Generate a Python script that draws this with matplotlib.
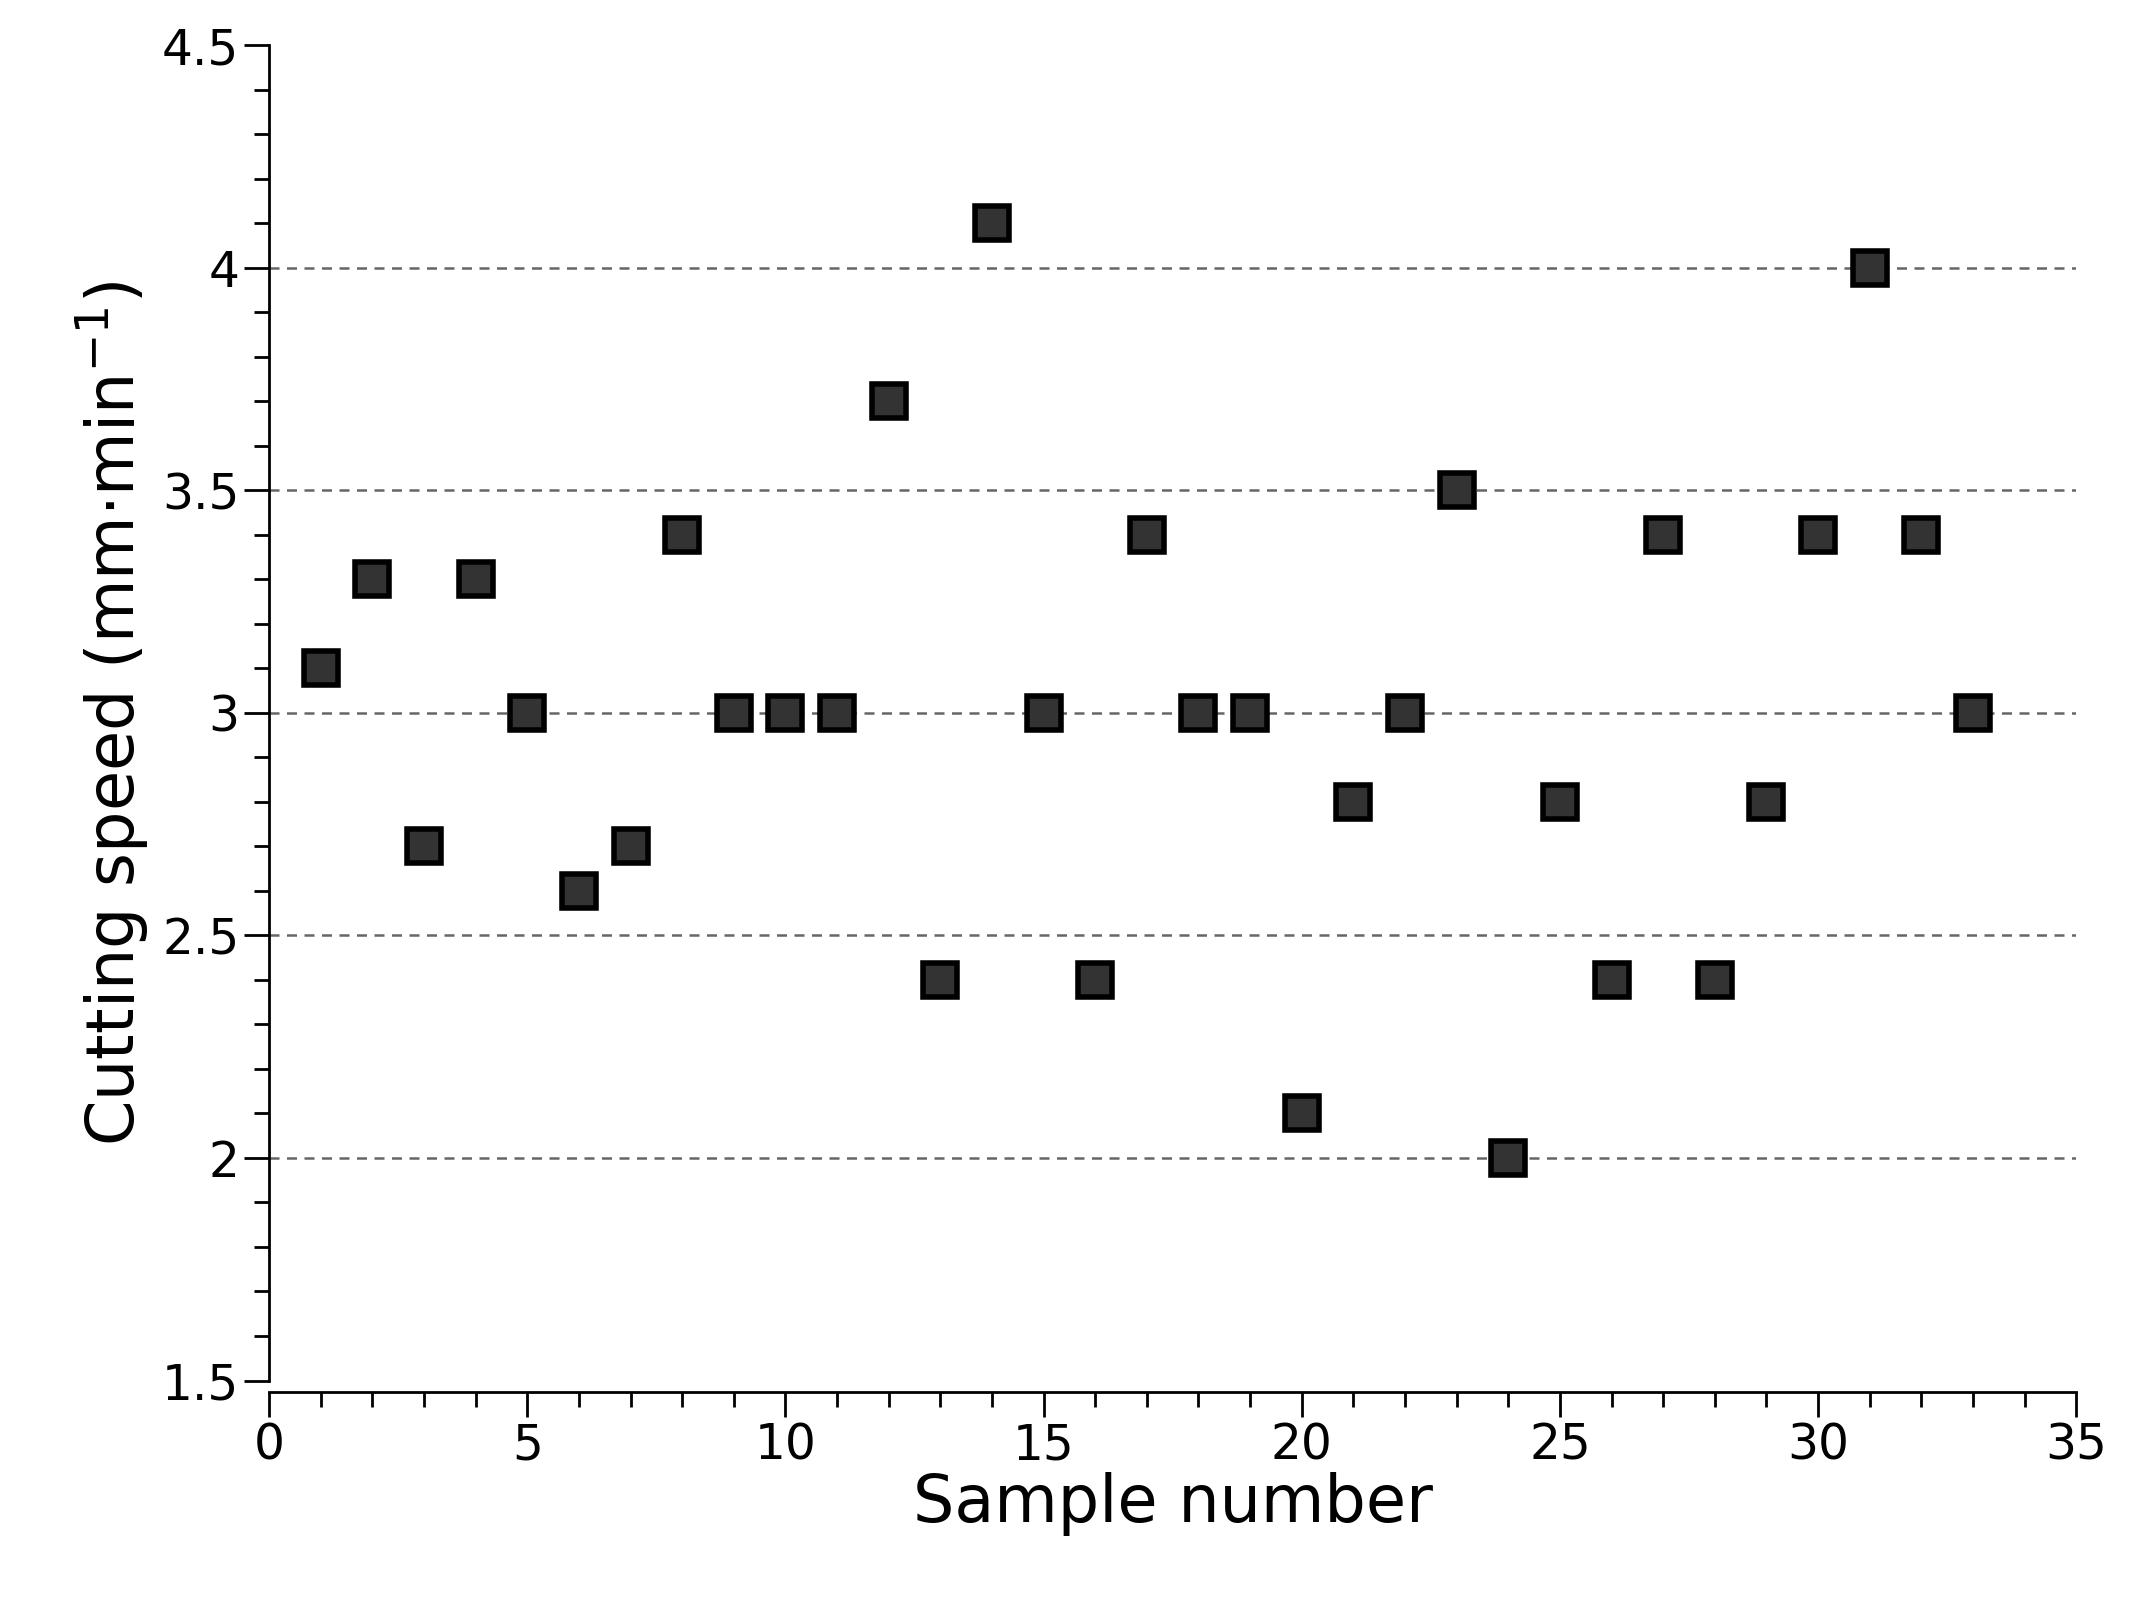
import matplotlib
matplotlib.use("Agg")
import matplotlib.pyplot as plt
from matplotlib.ticker import MultipleLocator

sample = list(range(1, 34))
speed = [3.1, 3.3, 2.7, 3.3, 3.0, 2.6, 2.7, 3.4, 3.0, 3.0, 3.0, 3.7, 2.4, 4.1, 3.0, 2.4,
         3.4, 3.0, 3.0, 2.1, 2.8, 3.0, 3.5, 2.0, 2.8, 2.4, 3.4, 2.4, 2.8, 3.4, 4.0, 3.4, 3.0]
grid_levels = [2.0, 2.5, 3.0, 3.5, 4.0]

plt.rcParams["font.family"] = "DejaVu Sans"
fig = plt.figure(figsize=(21.36, 16.09), dpi=100)
ax = fig.add_axes([0.126, 0.142, 0.846, 0.83])

for lv in grid_levels:
    ax.axhline(lv, color="0.4", linestyle=(0, (4, 3)), linewidth=1.8, zorder=0)

ax.plot(sample, speed, linestyle="none", marker="s", markersize=24,
        markerfacecolor="#333333", markeredgecolor="black", markeredgewidth=4, zorder=3)

ax.set_xlim(0, 35)
ax.set_ylim(1.5, 4.5)
ax.xaxis.set_major_locator(MultipleLocator(5))
ax.xaxis.set_minor_locator(MultipleLocator(1))
ax.yaxis.set_minor_locator(MultipleLocator(0.1))
ax.set_yticks([1.5, 2, 2.5, 3, 3.5, 4, 4.5])
ax.set_yticklabels(["1.5", "2", "2.5", "3", "3.5", "4", "4.5"])

for s in ("top", "right"):
    ax.spines[s].set_visible(False)
ax.spines["bottom"].set_position(("outward", 8))
for s in ("left", "bottom"):
    ax.spines[s].set_linewidth(2)

ax.tick_params(which="major", length=18, width=2, labelsize=35, direction="out")
ax.tick_params(which="minor", length=11, width=2, direction="out")

ax.set_xlabel("Sample number", fontsize=47, labelpad=2)
ax.set_ylabel(r"Cutting speed (mm$\cdot$min$^{-1}$)", fontsize=47, labelpad=8)

fig.savefig("out.png", dpi=100)
